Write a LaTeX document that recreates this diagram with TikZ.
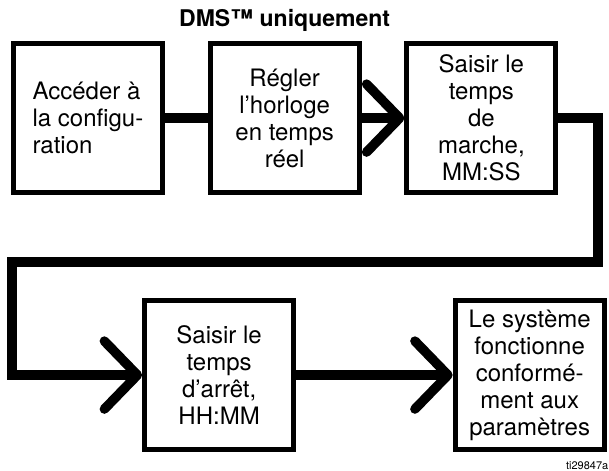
\documentclass[tikz,border=0pt]{standalone}
\usepackage{fontspec}
\setmainfont{TeX Gyre Heros}
\usepackage{tikz}
\usetikzlibrary{arrows.meta,positioning}
\tikzstyle{stepbox} = [rectangle, draw=black, line width=5pt, minimum width=149pt, minimum height=149pt, inner sep=2pt, align=center, font=\fontsize{24}{27}\selectfont]
\tikzstyle{link} = [line width=9.5pt]
\tikzstyle{arrow} = [line width=9.5pt, -{Straight Barb[length=33pt, width=68pt, round]}]

\begin{document}
\begin{tikzpicture}[node distance=1.5cm]
\useasboundingbox (0,0) rectangle (21.40,16.55);
\node[stepbox, align=left] (access) at (3.09,12.40) {Accéder à\\la configu-\\ration};
\node[stepbox, right=of access] (clock) {Régler\\l’horloge\\en temps\\réel};
\node[above=0.2cm of clock.north, font=\fontsize{23}{26}\selectfont\bfseries] (dmsonly) {DMS™ uniquement};
\node[stepbox, right=of clock] (runtime) {Saisir le\\temps\\de\\marche,\\MM:SS};
\node[stepbox] (stoptime) at (7.70,3.37) {Saisir le\\temps\\d’arrêt,\\HH:MM};
\node[stepbox, right=5.5cm of stoptime] (running) {Le système\\fonctionne\\conformé-\\ment aux\\paramètres};
\node[anchor=base east, inner sep=0pt, font=\fontsize{11}{13}\selectfont] (figref) at (21.38,0.05) {ti29847a};
\coordinate (turnright) at (21.02,7.34);
\coordinate (turnleft) at (0.42,7.34);
\draw[link] (access) -- (clock);
\draw[arrow] (clock) -- (runtime);
\draw[arrow] (runtime.east) -| (turnright) -- (turnleft) |- (stoptime.west);
\draw[arrow] (stoptime) -- (running);
\end{tikzpicture}
\end{document}
